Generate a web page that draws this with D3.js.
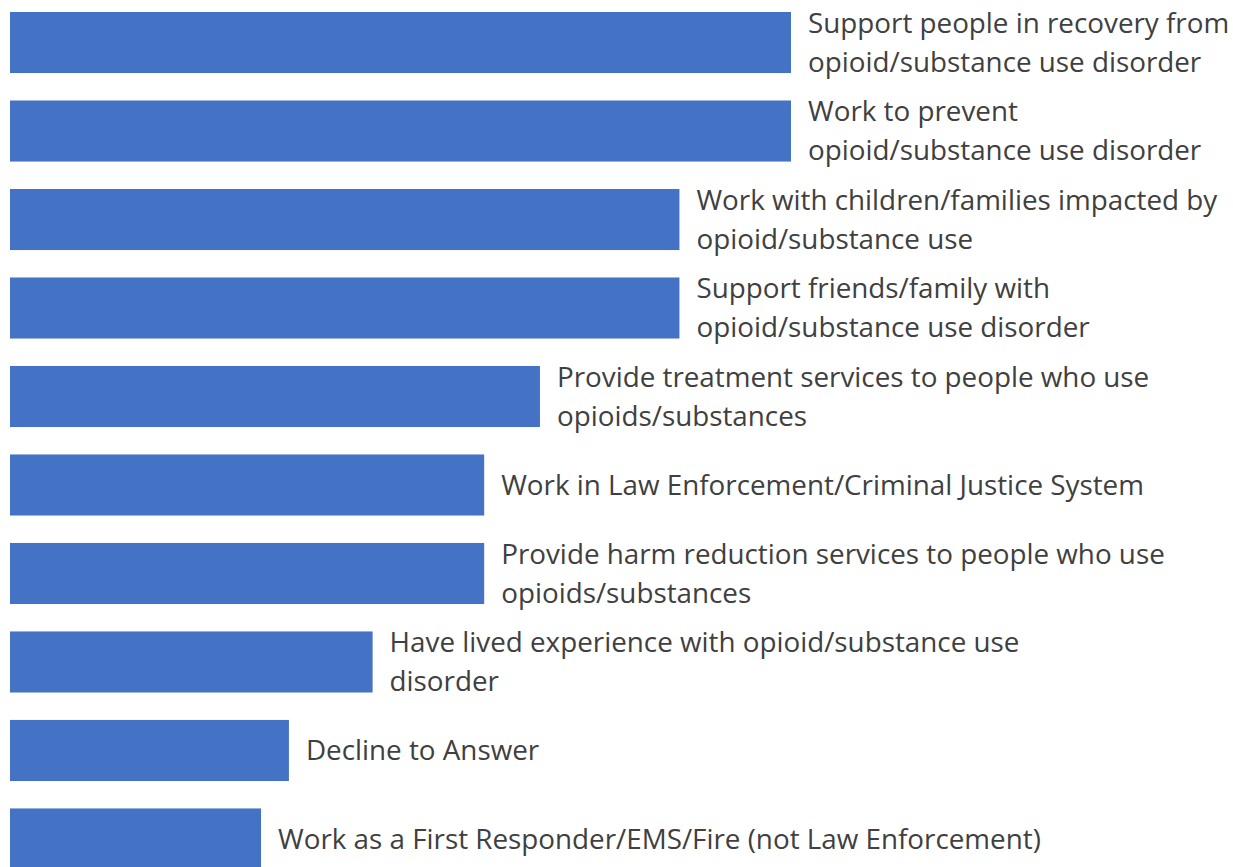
<!DOCTYPE html>
<html>
<head>
<meta charset="utf-8">
<title>Roles</title>
<script src="https://cdn.jsdelivr.net/npm/d3@7"></script>
<style>
  body { margin: 0; background: #fff; }
  svg { display: block; }
  .lbl { font-family: "Open Sans", sans-serif; font-size: 27.8px; fill: #404040; }
</style>
</head>
<body>
<svg width="1233" height="867"></svg>
<script>
// categories, one array of lines per bar
var categories = [
  ["Support people in recovery from", "opioid/substance use disorder"],
  ["Work to prevent", "opioid/substance use disorder"],
  ["Work with children/families impacted by", "opioid/substance use"],
  ["Support friends/family with", "opioid/substance use disorder"],
  ["Provide treatment services to people who use", "opioids/substances"],
  ["Work in Law Enforcement/Criminal Justice System"],
  ["Provide harm reduction services to people who use", "opioids/substances"],
  ["Have lived experience with opioid/substance use", "disorder"],
  ["Decline to Answer"],
  ["Work as a First Responder/EMS/Fire (not Law Enforcement)"]
];
var values = [28, 28, 24, 24, 19, 17, 17, 13, 10, 9];

var svg = d3.select("svg");
var idx = d3.range(values.length);

var x = d3.scaleLinear().domain([0, 28]).range([10, 791]);
var y = d3.scaleBand().domain(idx).range([12, 869.5]).paddingInner(0.31).paddingOuter(0);

svg.selectAll("rect.bar").data(idx).enter().append("rect")
  .attr("class", "bar")
  .attr("x", x(0))
  .attr("y", function(i) { return y(i); })
  .attr("width", function(i) { return x(values[i]) - x(0); })
  .attr("height", y.bandwidth())
  .attr("fill", "#4472C4");

var lineH = 39;
svg.selectAll("text.lbl").data(idx).enter().append("text")
  .attr("class", "lbl")
  .attr("x", function(i) { return x(values[i]) + 17; })
  .attr("y", function(i) { return y(i) + y.bandwidth() / 2; })
  .each(function(i) {
    var lines = categories[i];
    var t = d3.select(this);
    var cy = +t.attr("y");
    lines.forEach(function(s, k) {
      t.append("tspan")
        .attr("x", t.attr("x"))
        .attr("y", cy + (k - (lines.length - 1) / 2) * lineH)
        .attr("dy", "0.35em")
        .text(s);
    });
  });
</script>
</body>
</html>
